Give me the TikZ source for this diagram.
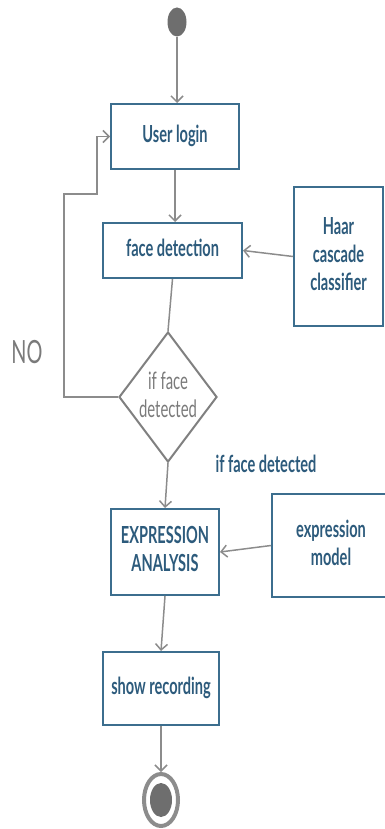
\documentclass[tikz,border=0pt]{standalone}
\usepackage{fontspec}
\setmainfont{Lato}
\usetikzlibrary{shapes.geometric,arrows.meta}
\usepackage{graphicx}

\definecolor{boxline}{HTML}{3C6E8E}
\definecolor{boxtext}{HTML}{2D5B7C}
\definecolor{flow}{HTML}{8C8C8C}
\definecolor{decline}{HTML}{808080}
\definecolor{dectext}{HTML}{7A7A7A}
\definecolor{dot}{HTML}{6E6E6E}

% narrow lettering, one or more lines
\newcommand\sqz[1]{\scalebox{0.62}[1]{\begin{tabular}{@{}c@{}}#1\end{tabular}}}

\tikzset{
  activity/.style={draw=boxline, line width=2pt, fill=white, rectangle,
    inner sep=0pt, text=boxtext, font=\fontsize{23.5}{28}\selectfont\bfseries},
  decision/.style={draw=decline, line width=2pt, fill=white, diamond,
    inner sep=0pt},
  flowline/.style={draw=flow, line width=1.5pt},
  flowarrow/.style={flowline, -{Straight Barb[length=6pt,width=12pt,line width=1.5pt]}},
  guard/.style={text=boxtext, font=\fontsize{23.5}{28}\selectfont\bfseries, inner sep=0pt},
}

\begin{document}
\begin{tikzpicture}[x=1pt, y=-1pt]
\useasboundingbox (0,0) rectangle (384,829);

% initial and final states
\node[ellipse, fill=dot, minimum width=19pt, minimum height=29pt, inner sep=0pt] (start) at (177,22) {};
\node[ellipse, draw=flow, line width=4pt, minimum width=34pt, minimum height=52pt, inner sep=0pt] (end) at (161,800) {};
\node[ellipse, fill=dot, minimum width=22pt, minimum height=34pt, inner sep=0pt] (endcore) at (end) {};

% activities
\node[activity, minimum width=128pt, minimum height=65pt] (login) at (175,136.5) {\sqz{User login}};
\node[activity, minimum width=139pt, minimum height=55pt] (fd) at (172.5,250.5) {\sqz{face detection}};
\node[activity, minimum width=89pt, minimum height=139pt] (haar) at (338.5,256.5) {\sqz{Haar\\cascade\\classifier}};
\node[activity, minimum width=108pt, minimum height=86pt] (ea) at (165,552) {\sqz{EXPRESSION\\ANALYSIS}};
\node[activity, minimum width=118pt, minimum height=103pt] (em) at (331,545.5) {\sqz{expression\\model}};
\node[activity, minimum width=116pt, minimum height=73pt] (sr) at (161,688.5) {\sqz{show recording}};

% decision
\node[decision, minimum width=98pt, minimum height=130pt] (dec) at (168,397) {};
\node[text=dectext, font=\fontsize{24}{28}\selectfont, inner sep=0pt] (dectxt) at (168,398) {\sqz{if face\\detected}};

% guards
\node[text=dectext, font=\fontsize{32}{32}\selectfont, inner sep=0pt] (no) at (27,352) {\scalebox{0.62}[1]{NO}};
\node[guard] (yes) at (266,467) {\sqz{if face detected}};

% loop-back corners
\coordinate (k1) at (64,194);
\coordinate (k2) at (97,194);

% flows
\draw[flowarrow] (start) -- (start |- login.north);
\draw[flowarrow] (login.south) -- (login.south |- fd.north);
\draw[flowline] (fd.south) -- (dec.north);
\draw[flowarrow] (haar.west) -- (fd.east);
\draw[flowarrow] (dec.west) -| (k1) -- (k2) |- (login.west);
\draw[flowarrow] (dec.south) -- (ea.north);
\draw[flowarrow] (em.west) -- (ea.east);
\draw[flowarrow] (ea.south) -- (sr.north);
\draw[flowarrow] (sr.south) -- (end.north);
\end{tikzpicture}
\end{document}
